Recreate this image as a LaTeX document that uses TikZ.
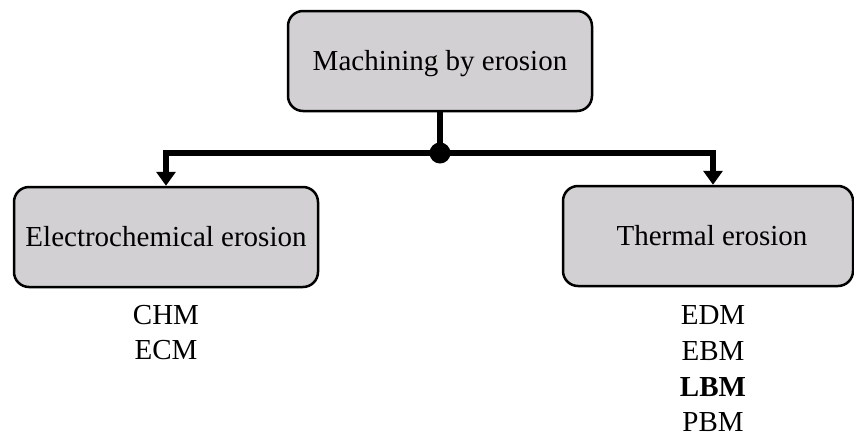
\documentclass[tikz,border=0pt]{standalone}
\usepackage{fontspec}
\setmainfont{Liberation Serif}
\usetikzlibrary{arrows.meta}
\definecolor{boxgray}{RGB}{210,208,210}
\tikzset{
  box/.style={draw=black, line width=2.5pt, fill=boxgray, rounded corners=15pt,
    minimum width=#1, minimum height=100pt, inner sep=0pt, text height=19pt, text depth=0pt,
    font=\fontsize{29}{34}\selectfont},
  box/.default=304pt,
  conn/.style={line width=6pt},
  arr/.style={conn, -{Triangle[length=14pt,width=19pt]}},
  lbl/.style={inner sep=0pt, text height=19pt, text depth=0pt, font=\fontsize{29}{34}\selectfont}
}
\begin{document}
\begin{tikzpicture}[x=1pt,y=-1pt]
\useasboundingbox (0,0) rectangle (854,437);
\node[box] (top) at (440,61) {Machining by erosion};
\node[box] (left) at (166,237) {Electrochemical erosion};
\node[box=290pt] (right) at (708,236) {\hspace*{8pt}Thermal erosion};
\coordinate (dot) at (440,153);
\draw[conn] (top.south) -- (dot);
\draw[arr] (dot) -| (left.north);
\draw[arr] (dot) -| ([xshift=5pt]right.north);
\fill (dot) circle (10.5pt);
\node[lbl] (chm) at (166,314.5) {CHM};
\node[lbl] (ecm) at (166,350) {ECM};
\node[lbl] (edm) at (713,315) {EDM};
\node[lbl] (ebm) at (713,350.5) {EBM};
\node[lbl] (lbm) at (713,386.5) {\textbf{LBM}};
\node[lbl] (pbm) at (713,422) {PBM};
\end{tikzpicture}
\end{document}
